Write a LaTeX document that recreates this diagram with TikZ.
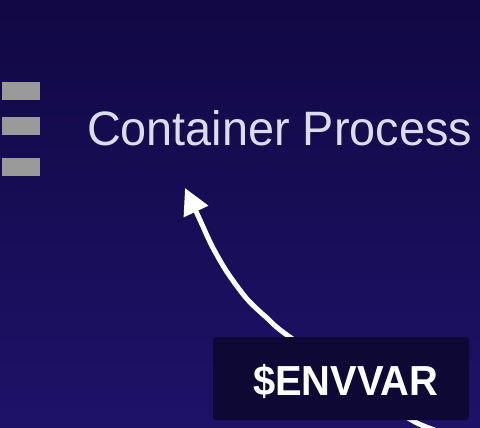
\documentclass[tikz,border=0pt]{standalone}
\usepackage{fontspec}
\setmainfont{Liberation Sans}
\usetikzlibrary{arrows.meta}
\definecolor{bgtop}{RGB}{17,8,68}
\definecolor{bgbot}{RGB}{30,18,104}
\definecolor{barcol}{RGB}{154,154,154}
\definecolor{txtcol}{RGB}{220,220,232}
\definecolor{boxcol}{RGB}{13,8,52}
\tikzset{
  bar/.style={fill=barcol, draw=none},
  label/.style={inner sep=0pt, outer sep=0pt, text=txtcol},
  varbox/.style={fill=boxcol, draw=none, rounded corners=3pt},
  flow/.style={draw=white, line width=5pt, -{Triangle[length=26pt,width=26pt]}}
}
\begin{document}
\begin{tikzpicture}[x=1pt,y=-1pt]
\useasboundingbox (0,0) rectangle (480,428);
\shade[top color=bgtop, bottom color=bgbot] (0,0) rectangle (480,428);
% bars
\path[bar] (2,82) rectangle (40,100);
\path[bar] (2,117) rectangle (40,135);
\path[bar] (2,158) rectangle (40,176);
% title
\node[label, anchor=south west] (proc) at (87,146)
  {\resizebox{385pt}{35pt}{Container Process}};
% arrow
\coordinate (s0) at (450,435);
\coordinate (s1) at (415,422);
\coordinate (s2) at (370,392);
\coordinate (s3) at (287,335);
\coordinate (s4) at (267,318);
\coordinate (s5) at (247,299);
\coordinate (s6) at (227,272);
\coordinate (s7) at (212,246);
\coordinate (s8) at (200,220);
\coordinate (tip) at (185,188);
\draw[flow] plot[smooth, tension=0.5] coordinates {(s0) (s1) (s2) (s3) (s4) (s5) (s6) (s7) (s8) (tip)};
% env var box
\path[varbox] (213,337) rectangle (469,420);
\node[label, text=white, anchor=base west] (env) at (253,395)
  {\scalebox{0.95}[1]{\fontsize{42}{42}\selectfont\bfseries \$ENVVAR}};
\end{tikzpicture}
\end{document}
